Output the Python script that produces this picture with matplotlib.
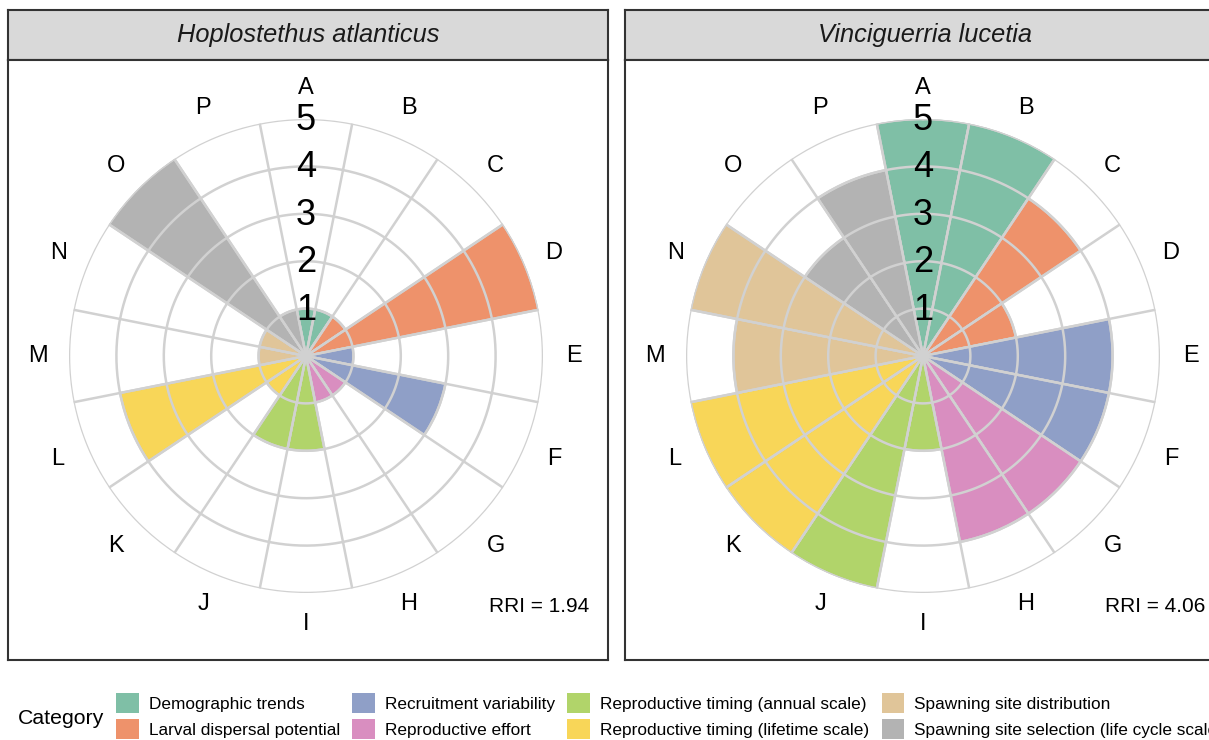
import numpy as np
import matplotlib
matplotlib.use("Agg")
import matplotlib.pyplot as plt
from matplotlib.patches import Patch

plt.rcParams["font.family"] = ["Liberation Sans", "DejaVu Sans"]

# ---------------------------------------------------------------------------
#  Data
# ---------------------------------------------------------------------------
criteria = list("ABCDEFGHIJKLMNOP")

category_names = [
    "Demographic trends",
    "Larval dispersal potential",
    "Recruitment variability",
    "Reproductive effort",
    "Reproductive timing (annual scale)",
    "Reproductive timing (lifetime scale)",
    "Spawning site distribution",
    "Spawning site selection (life cycle scale)",
]
category_colors = ["#7fbfa6", "#ee926b", "#8f9fc7", "#d98ec0",
                   "#b1d46a", "#f8d658", "#e0c599", "#b3b3b3"]
# which category each criterion A..P belongs to
criterion_category = [0, 0, 1, 1, 2, 2, 3, 3, 4, 4, 5, 5, 6, 6, 7, 7]

species = ["Hoplostethus atlanticus", "Vinciguerria lucetia"]
scores_hoplostethus = [1, 1, 1, 5, 1, 3, 1, 1, 2, 2, 1, 4, 1, 1, 5, 1]
scores_vinciguerria = [5, 5, 4, 2, 4, 4, 4, 4, 2, 5, 5, 5, 4, 5, 3, 4]
scores = [scores_hoplostethus, scores_vinciguerria]

# ---------------------------------------------------------------------------
#  Layout (pixels)
# ---------------------------------------------------------------------------
W, H = 1209, 740
GRID = "#d1d1d1"
EDGE = "#333333"


def rect(x0, y0, x1, y1):
    return [x0 / W, 1 - y1 / H, (x1 - x0) / W, (y1 - y0) / H]


fig = plt.figure(figsize=(W / 100, H / 100), dpi=100)

n = len(criteria)
step = 2 * np.pi / n
theta = np.arange(n) * step
R = 237          # pixel radius of the 5 ring
bar_colors = [category_colors[c] for c in criterion_category]

for k, (name, vals) in enumerate(zip(species, scores)):
    x0 = 8 + k * 617
    x1 = x0 + 600

    # strip
    strip = fig.add_axes(rect(x0, 10, x1, 60))
    strip.set_facecolor("#d9d9d9")
    strip.set_xticks([]); strip.set_yticks([])
    for s in strip.spines.values():
        s.set_color(EDGE); s.set_linewidth(1.5)
    strip.text(0.5, 0.5, name, style="italic", fontsize=18.3, color="#1a1a1a",
               ha="center", va="center", transform=strip.transAxes)

    # panel frame
    frame = fig.add_axes(rect(x0, 60, x1, 660))
    frame.set_xticks([]); frame.set_yticks([])
    for s in frame.spines.values():
        s.set_color(EDGE); s.set_linewidth(1.5)
    frame.text(0.968, 0.09, f"RRI = {np.mean(vals):.2f}", fontsize=15,
               ha="right", va="center", transform=frame.transAxes)

    # polar plot
    cx, cy = x0 + 298, 356
    ax = fig.add_axes(rect(cx - R, cy - R, cx + R, cy + R), projection="polar")
    ax.set_theta_zero_location("N")
    ax.set_theta_direction(-1)
    ax.set_ylim(0, 5)
    ax.set_axis_off()

    ax.bar(theta, vals, width=step, color=bar_colors, edgecolor=GRID,
           linewidth=1.7, zorder=1)

    ring = np.linspace(0, 2 * np.pi, 500)
    for r in range(1, 6):
        ax.plot(ring, np.full_like(ring, r), color=GRID, lw=1.8, zorder=2)
    for t in theta + step / 2:
        ax.plot([t, t], [0, 5], color=GRID, lw=1.8, zorder=2)

    for t, lab in zip(theta, criteria):
        ax.text(t, 5.66, lab, fontsize=17, ha="center", va="center",
                clip_on=False, zorder=4)
    for r in range(1, 6):
        ax.text(0, r - 0.03, str(r), fontsize=26, ha="center", va="center",
                zorder=5)

# legend
handles = [Patch(facecolor=c, edgecolor="none") for c in category_colors]
fig.legend(handles, category_names, ncol=4, loc="upper left",
           bbox_to_anchor=(116 / W, 1 - 693 / H), frameon=False,
           fontsize=12.4, handlelength=1.32, handleheight=1.45,
           handletextpad=0.58, columnspacing=0.72, labelspacing=0.3,
           borderpad=0, borderaxespad=0)
fig.text(18 / W, 1 - 718 / H, "Category", fontsize=15.3, ha="left",
         va="center")

fig.savefig("out.png", dpi=100, facecolor="white")
